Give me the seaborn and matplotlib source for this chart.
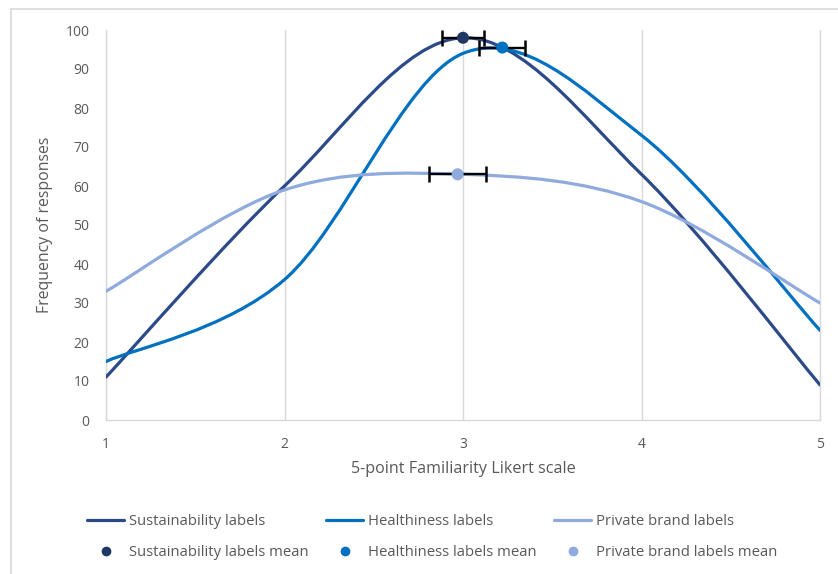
import numpy as np
import pandas as pd
import matplotlib
matplotlib.use("Agg")
import matplotlib.pyplot as plt
import seaborn as sns
from matplotlib.path import Path
from matplotlib.patches import PathPatch
from matplotlib.lines import Line2D

# ---- data ----
likert = [1, 2, 3, 4, 5]
sustainability = [11, 60, 98, 63, 9]
healthiness = [15, 36, 94, 73, 23]
private_brand = [33, 59, 63, 56, 30]

series_names = ["Sustainability labels", "Healthiness labels", "Private brand labels"]
mean_x = [3.00, 3.22, 2.97]
mean_y = [98, 95.5, 63]
mean_err = [0.12, 0.13, 0.16]

line_colors = ["#2B4A87", "#0070C0", "#8FAADC"]
mean_colors = ["#1F3864", "#0070C0", "#8FAADC"]

sns.set_style("white")
plt.rcParams["font.family"] = ["Open Sans", "DejaVu Sans"]

fig = plt.figure(figsize=(8.38, 5.74), dpi=100)
ax = fig.add_axes([106/838, 1-420/574, (820-106)/838, (420-30)/574])


def smooth_path(xs, ys):
    pts = np.column_stack([xs, ys]).astype(float)
    n = len(pts)
    verts = [pts[0]]
    codes = [Path.MOVETO]
    for i in range(n - 1):
        p_prev = pts[i - 1] if i > 0 else pts[i]
        p_next2 = pts[i + 2] if i + 2 < n else pts[i + 1]
        c1 = pts[i] + (pts[i + 1] - p_prev) / 6.0
        c2 = pts[i + 1] - (p_next2 - pts[i]) / 6.0
        verts += [c1, c2, pts[i + 1]]
        codes += [Path.CURVE4] * 3
    return Path(verts, codes)


for vals, col in zip([sustainability, healthiness, private_brand], line_colors):
    patch = PathPatch(smooth_path(likert, vals), facecolor="none", edgecolor=col,
                      lw=2.3, capstyle="round", joinstyle="round", zorder=3,
                      transform=ax.transData)
    ax.add_patch(patch)

# error bars
for mx, my, me in zip(mean_x, mean_y, mean_err):
    ax.errorbar(mx, my, xerr=me, fmt="none", ecolor="black", elinewidth=1.7,
                capsize=5.5, capthick=1.8, zorder=4)

means_df = pd.DataFrame({"x": mean_x, "y": mean_y, "series": series_names})
sns.scatterplot(data=means_df, x="x", y="y", hue="series", palette=mean_colors,
                s=75, edgecolor="none", legend=False, zorder=5, ax=ax)

ax.set_xlim(1, 5)
ax.set_ylim(0, 100)
ax.set_xticks(likert)
ax.set_yticks(range(0, 101, 10))
ax.grid(axis="x", color="#D9D9D9", lw=1)
ax.grid(axis="y", visible=False)
ax.spines["top"].set_visible(False)
for s in ["left", "bottom", "right"]:
    ax.spines[s].set_color("#D9D9D9")
    ax.spines[s].set_linewidth(1)
ax.tick_params(axis="both", length=0, colors="#595959", labelsize=10)
ax.tick_params(axis="y", pad=12)
ax.tick_params(axis="x", pad=12)
ax.set_xlabel("5-point Familiarity Likert scale", fontsize=11.6, color="#595959", labelpad=7)
ax.set_ylabel("Frequency of responses", fontsize=11.4, color="#595959", labelpad=9)

handles = []
labels = []
for name, lc, mc in zip(series_names, line_colors, mean_colors):
    handles.append(Line2D([], [], color=lc, lw=2.3))
    labels.append(name)
    handles.append(Line2D([], [], color=mc, lw=0, marker="o", markersize=6))
    labels.append(name + " mean")

leg = fig.legend(handles, labels, ncol=3, loc="center", bbox_to_anchor=(432/838, 1-537/574),
                 frameon=False, fontsize=10.7, handlelength=2.5, handletextpad=0.3,
                 columnspacing=1.2, labelspacing=1.05)
for t in leg.get_texts():
    t.set_color("#595959")

# chart area border (top and left visible)
fig.add_artist(Line2D([11/838, 1.0], [1-8.5/574, 1-8.5/574], transform=fig.transFigure,
                      color="#D9D9D9", lw=1.2))
fig.add_artist(Line2D([11/838, 11/838], [0, 1-8.5/574], transform=fig.transFigure,
                      color="#D9D9D9", lw=1.2))

fig.savefig("out.png", dpi=100)
